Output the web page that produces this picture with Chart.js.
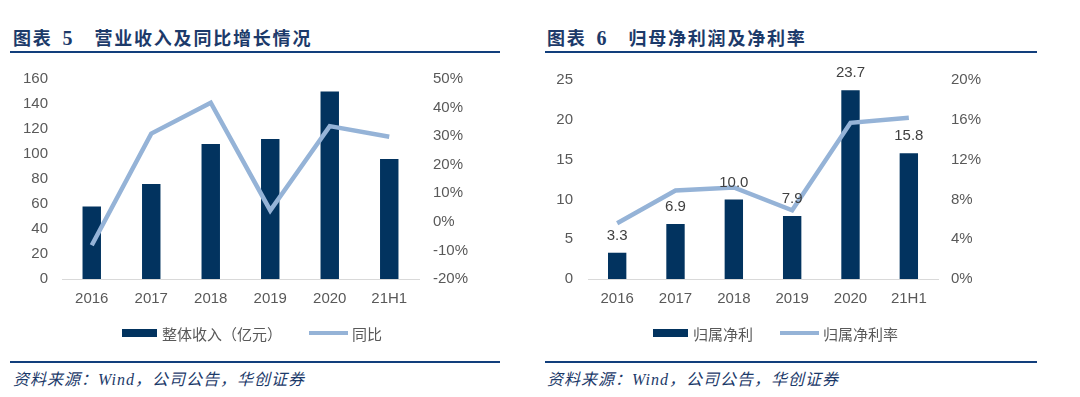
<!DOCTYPE html>
<html>
<head>
<meta charset="utf-8">
<script src="https://cdn.jsdelivr.net/npm/chart.js@4.4.0/dist/chart.umd.min.js"></script>
<style>
  html, body { margin: 0; padding: 0; background: #fff; }
  body { width: 1080px; height: 397px; position: relative; overflow: hidden; }
  .title { position: absolute; top: 26px; font-family: "Noto Sans CJK SC", sans-serif; font-weight: 700; font-size: 18px; color: #1c3a6a; letter-spacing: 1.8px; white-space: nowrap; line-height: 22px; }
  .title .num { font-family: "Liberation Serif", serif; font-size: 20px; margin-left: 10px; margin-right: 20px; }
  .rule { position: absolute; height: 2px; background: #123f7c; }
  .src { position: absolute; top: 370px; font-family: "Liberation Serif", "Noto Sans CJK SC", serif; font-style: italic; font-size: 16px; color: #1c3a6a; letter-spacing: 1px; white-space: nowrap; line-height: 20px; }
  .cv { position: absolute; top: 56px; width: 540px; height: 300px; }
</style>
</head>
<body>
<div class="title" style="left:13px;">图表<span class="num">5</span>营业收入及同比增长情况</div>
<div class="rule" style="left:10px; width:490px; top:51px;"></div>
<div class="title" style="left:547px;">图表<span class="num">6</span>归母净利润及净利率</div>
<div class="rule" style="left:545px; width:492px; top:51px;"></div>

<div class="cv" style="left:0px;"><canvas id="c1" width="540" height="300"></canvas></div>
<div class="cv" style="left:540px;"><canvas id="c2" width="540" height="300"></canvas></div>

<div class="rule" style="left:10px; width:490px; top:361px;"></div>
<div class="rule" style="left:545px; width:492px; top:361px;"></div>
<div class="src" style="left:13px;">资料来源：Wind，公司公告，华创证券</div>
<div class="src" style="left:547px;">资料来源：Wind，公司公告，华创证券</div>

<script>
// ---------- data ----------
const categories = ["2016", "2017", "2018", "2019", "2020", "21H1"];
// Chart 5
const revenue = [58, 76, 108, 112, 150, 96];          // 整体收入（亿元）
const revenueYoY = [-8.2, 30.9, 41.7, 4.0, 33.5, 29.8]; // 同比 (%)
const revLeftTicks = { min: 0, max: 160, step: 20 };
const revRightTicks = { min: -20, max: 50, step: 10 };
// Chart 6
const netProfit = [3.3, 6.9, 10.0, 7.9, 23.7, 15.8];  // 归属净利
const netMargin = [5.6, 8.9, 9.2, 6.9, 15.7, 16.2];   // 归属净利率 (%)
const npLeftTicks = { min: 0, max: 25, step: 5 };
const npRightTicks = { min: 0, max: 20, step: 4 };

const labels5 = ["整体收入（亿元）", "同比"];
const labels6 = ["归属净利", "归属净利率"];

// ---------- style ----------
const BAR = "#02335f";
const LINE = "#95b3d7";
const TXT = "#595959";
const TICKFONT = { family: "Liberation Sans, Arial, sans-serif", size: 15 };

const legendPlugin = {
  id: "customLegend",
  afterDraw(chart, args, opts) {
    const ctx = chart.ctx;
    ctx.save();
    ctx.font = "15px 'Noto Sans CJK SC', sans-serif";
    ctx.textBaseline = "middle";
    let x = opts.x;
    const y = opts.y;
    const items = chart.data.datasets.slice().sort((a, b) => (a.type === "bar" ? -1 : 1));
    items.forEach((ds) => {
      if (ds.type === "bar") {
        ctx.fillStyle = ds.backgroundColor;
        ctx.fillRect(x, y - 4, 35, 8);
        x += 35 + 5;
      } else {
        ctx.strokeStyle = ds.borderColor;
        ctx.lineWidth = 4;
        ctx.beginPath();
        ctx.moveTo(x, y);
        ctx.lineTo(x + 39, y);
        ctx.stroke();
        x += 39 + 4;
      }
      ctx.fillStyle = TXT;
      ctx.fillText(ds.label, x, y + 1);
      x += ctx.measureText(ds.label).width + 27;
    });
    ctx.restore();
  }
};

const barLabelPlugin = {
  id: "barLabels",
  afterDatasetsDraw(chart, args, opts) {
    if (!opts.show) return;
    const ctx = chart.ctx;
    ctx.save();
    ctx.font = "15px 'Liberation Sans', Arial, sans-serif";
    ctx.fillStyle = "#404040";
    ctx.textAlign = "center";
    ctx.textBaseline = "middle";
    chart.data.datasets.forEach((ds, di) => {
      if (ds.type !== "bar") return;
      const meta = chart.getDatasetMeta(di);
      meta.data.forEach((el, i) => {
        ctx.fillText(ds.data[i].toFixed(1), el.x, el.y - 17);
      });
    });
    ctx.restore();
  }
};

function makeChart(id, barData, lineData, names, lt, rt, dims, legendPos, showLabels, barPct) {
  return new Chart(document.getElementById(id), {
    data: {
      labels: categories,
      datasets: [
        { type: "line", label: names[1], data: lineData, yAxisID: "yR", borderColor: LINE, backgroundColor: LINE,
          borderWidth: 4.5, pointRadius: 0, pointHoverRadius: 0, tension: 0, order: 0 },
        { type: "bar", label: names[0], data: barData, yAxisID: "yL", backgroundColor: BAR,
          barPercentage: barPct, categoryPercentage: 1, order: 1 }
      ]
    },
    options: {
      responsive: false,
      animation: false,
      events: [],
      layout: { padding: { top: 22, left: 0, right: 0, bottom: 0 } },
      plugins: {
        legend: { display: false },
        tooltip: { enabled: false },
        customLegend: legendPos,
        barLabels: { show: showLabels }
      },
      scales: {
        x: {
          grid: { display: false, drawTicks: false },
          border: { display: true, color: "#d9d9d9", width: 1 },
          ticks: { color: TXT, font: TICKFONT, padding: 11, maxRotation: 0 },
          afterFit(s) { s.height = 77; }
        },
        yL: {
          position: "left",
          min: lt.min, max: lt.max,
          grid: { display: false, drawTicks: false },
          border: { display: false },
          ticks: { stepSize: lt.step, color: TXT, font: TICKFONT, padding: dims.lp },
          afterFit(s) { s.width = dims.lw; }
        },
        yR: {
          position: "right",
          min: rt.min, max: rt.max,
          grid: { display: false, drawTicks: false },
          border: { display: false },
          ticks: { stepSize: rt.step, color: TXT, font: TICKFONT, padding: dims.rp, callback: v => v + "%" },
          afterFit(s) { s.width = dims.rw; }
        }
      }
    },
    plugins: [legendPlugin, barLabelPlugin]
  });
}

makeChart("c1", revenue, revenueYoY, labels5, revLeftTicks, revRightTicks,
  { lw: 62, rw: 121, lp: 14, rp: 14 }, { x: 122, y: 277 }, false, 0.31);
makeChart("c2", netProfit, netMargin, labels6, npLeftTicks, npRightTicks,
  { lw: 48, rw: 142, lp: 15, rp: 13 }, { x: 113, y: 277 }, true, 0.315);
</script>
</body>
</html>
